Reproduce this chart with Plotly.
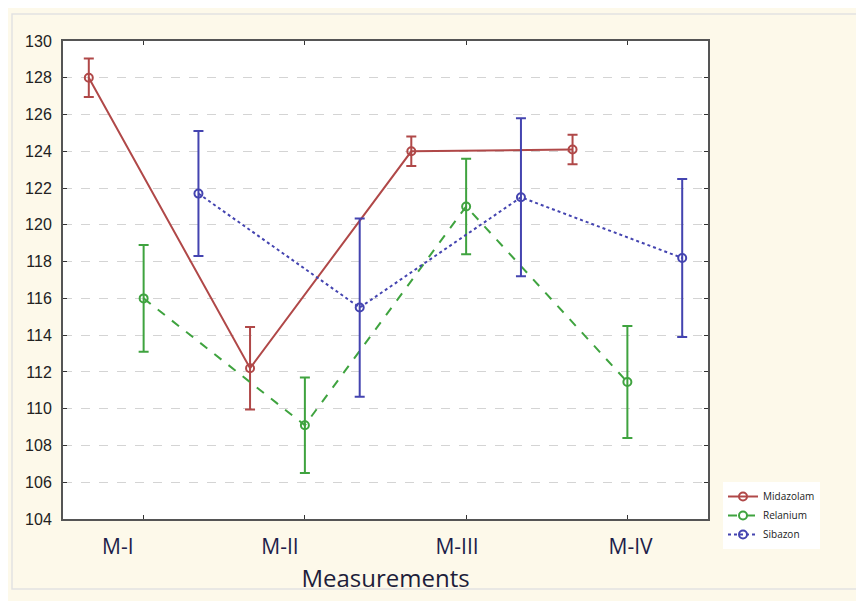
import plotly.graph_objects as go

categories = ["M-I", "M-II", "M-III", "M-IV"]
series_names = ["Midazolam", "Relanium", "Sibazon"]
midazolam = [128.0, 112.2, 124.0, 124.1]
midazolam_err = [1.05, 2.25, 0.8, 0.8]
relanium = [116.0, 109.1, 121.0, 111.45]
relanium_err = [2.9, 2.6, 2.6, 3.05]
sibazon = [121.7, 115.5, 121.5, 118.2]
sibazon_err = [3.4, 4.85, 4.3, 4.3]
y_ticks = list(range(104, 131, 2))

offsets = [-0.34, 0.0, 0.34]
label_shift = [-0.16, -0.154, -0.056, 0.02]
colors = ["#b04848", "#3fa33f", "#4444b0"]
dashes = ["solid", "dash", "dot"]
values = [midazolam, relanium, sibazon]
errors = [midazolam_err, relanium_err, sibazon_err]

W, H = 864, 601
L, R, T, B = 55, 164, 33, 90
pw, ph = W - L - R, H - T - B

def px_x(p):
    return (p - L) / pw

def px_y(p):
    return (H - B - p) / ph

idx = list(range(len(categories)))
fig = go.Figure()
for name, vals, errs, off, col, dsh in zip(series_names, values, errors, offsets, colors, dashes):
    fig.add_trace(go.Scatter(
        x=[i + off for i in idx], y=vals, name=name, mode="lines+markers",
        line=dict(color=col, width=2, dash=dsh),
        marker=dict(symbol="circle-open", size=8, color=col, line=dict(width=2)),
        error_y=dict(type="data", array=errs, visible=True, color=col, thickness=2, width=5),
    ))

fig.add_trace(go.Scatter(x=[i + s for i, s in zip(idx, label_shift)], y=[None] * 4,
                         xaxis="x2", showlegend=False, hoverinfo="skip"))

fig.update_layout(
    width=W, height=H,
    margin=dict(l=L, r=R, t=T, b=B),
    paper_bgcolor="#fdf9ea", plot_bgcolor="white",
    font=dict(family="Open Sans, sans-serif", color="#222"),
    xaxis=dict(range=[-0.5, 3.5], tickvals=idx, ticktext=[""] * 4, ticks="inside", ticklen=4,
               tickcolor="#333", showgrid=False, zeroline=False, showline=True, linewidth=2,
               linecolor="#555", mirror="ticks",
               title=dict(text="Measurements", font=dict(size=24, color="#1e1e3a"), standoff=48)),
    xaxis2=dict(range=[-0.5, 3.5], overlaying="x", anchor="y", side="bottom",
                tickvals=[i + s for i, s in zip(idx, label_shift)], ticktext=categories,
                ticks="", showgrid=False, zeroline=False, showline=False, ticklabelstandoff=13,
                tickfont=dict(size=21, color="#1e1e4a")),
    yaxis=dict(range=[104, 130], tickvals=y_ticks, ticks="inside", ticklen=4, tickcolor="#333",
               showgrid=True, gridcolor="#d4d4d4", griddash="dash", gridwidth=1,
               zeroline=False, showline=True, linewidth=2, linecolor="#555", mirror="ticks",
               ticklabelstandoff=6,
               tickfont=dict(size=16, family="Liberation Sans Narrow, Arial Narrow, sans-serif", color="#222")),
    legend=dict(x=px_x(715), y=px_y(474), xanchor="left", yanchor="top", bgcolor="white",
                font=dict(size=10, color="#222"), tracegroupgap=0, itemwidth=30),
    showlegend=True,
    shapes=[dict(type="rect", xref="paper", yref="paper",
                 x0=px_x(4), x1=px_x(870), y0=px_y(581), y1=px_y(6),
                 line=dict(color="#e2e2e2", width=1.5), layer="below")],
)

fig.write_html("out.html")
